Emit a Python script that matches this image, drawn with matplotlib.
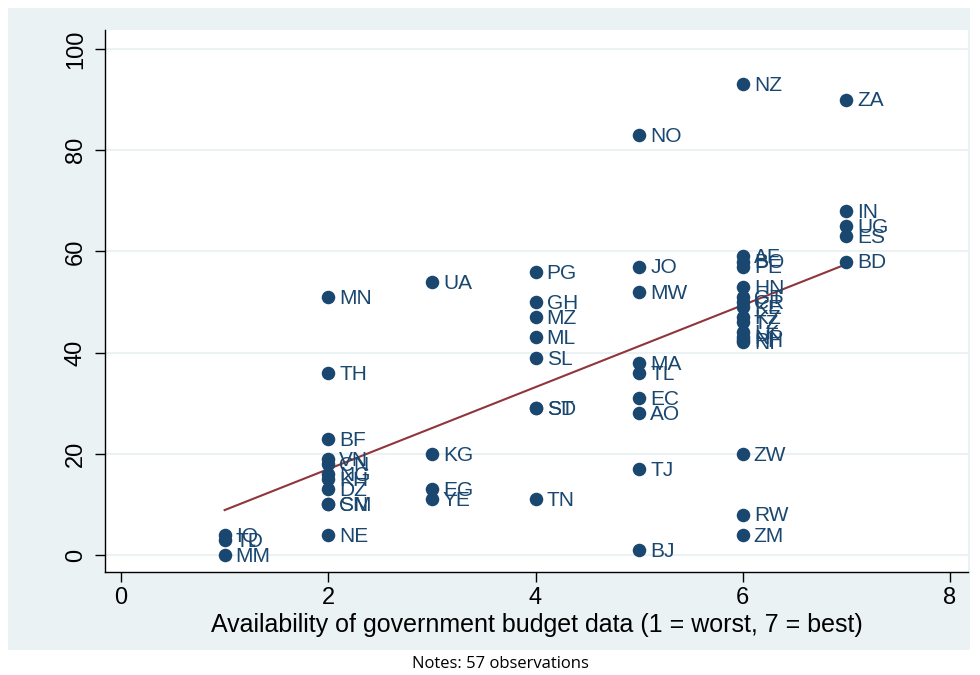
import numpy as np
import matplotlib
matplotlib.use("Agg")
import matplotlib.pyplot as plt
from matplotlib.patches import Rectangle

plt.rcParams["font.family"] = ["Liberation Sans", "DejaVu Sans"]

# Data: budget data availability score (x), outcome index (y), country code
codes = ["IQ", "TD", "MM",
         "MN", "TH", "BF", "VN", "CN", "NG", "KH", "DZ", "CM", "SN", "NE",
         "UA", "KG", "EG", "YE",
         "PG", "GH", "MZ", "ML", "SL", "ST", "SD", "TN",
         "NO", "JO", "MW", "MA", "TL", "EC", "AO", "TJ", "BJ",
         "NZ", "AF", "BO", "PE", "HN", "GT", "CR", "KE", "KZ", "TZ", "LK", "NP", "PH", "NI",
         "ZW", "RW", "ZM",
         "ZA", "IN", "UG", "ES", "BD"]
xvals = [1, 1, 1,
         2, 2, 2, 2, 2, 2, 2, 2, 2, 2, 2,
         3, 3, 3, 3,
         4, 4, 4, 4, 4, 4, 4, 4,
         5, 5, 5, 5, 5, 5, 5, 5, 5,
         6, 6, 6, 6, 6, 6, 6, 6, 6, 6, 6, 6, 6, 6,
         6, 6, 6,
         7, 7, 7, 7, 7]
yvals = [4, 3, 0,
         51, 36, 23, 19, 18, 16, 15, 13, 10, 10, 4,
         54, 20, 13, 11,
         56, 50, 47, 43, 39, 29, 29, 11,
         83, 57, 52, 38, 36, 31, 28, 17, 1,
         93, 59, 58, 57, 53, 51, 50, 49, 47, 46, 44, 43, 42.5, 42,
         20, 8, 4,
         90, 68, 65, 63, 58]

x_ticks = [0, 2, 4, 6, 8]
y_ticks = [0, 20, 40, 60, 80, 100]
x_title = "Availability of government budget data (1 = worst, 7 = best)"
note = "Notes: 57 observations"

navy = "#1a476f"
maroon = "#90353b"
bg = "#eaf2f3"

W, H = 980, 675
fig = plt.figure(figsize=(W / 100, H / 100), dpi=100)
fig.patch.set_facecolor("white")
fig.add_artist(Rectangle((8 / W, 1 - 650 / H), 962 / W, 642 / H,
                         transform=fig.transFigure, facecolor=bg,
                         edgecolor="none", zorder=0))

# axes box in pixels
left, right, top, bottom = 105, 968, 30, 572
ax = fig.add_axes([left / W, 1 - bottom / H, (right - left) / W, (bottom - top) / H])
ax.set_facecolor("white")

# data->pixel mapping: x 0@121, 8@950 ; y 0@555, 100@49
xs = (950 - 121) / 8
ys = (555 - 49) / 100
ax.set_xlim(-(121 - left) / xs, 8 + (right - 950) / xs)
ax.set_ylim(-(bottom - 555) / ys, 100 + (49 - top) / ys)

for yt in y_ticks:
    ax.axhline(yt, color=bg, lw=1.5, zorder=1)

x = np.array(xvals, dtype=float)
y = np.array(yvals, dtype=float)
ax.scatter(x, y, s=95, color=navy, zorder=3, linewidths=0)
for xi, yi, c in zip(x, y, codes):
    ax.annotate(c, (xi, yi), xytext=(8, -1), textcoords="offset points",
                va="center", ha="left", fontsize=15, color=navy, zorder=4)

b, a = np.polyfit(x, y, 1)
xl = np.array([x.min(), x.max()])
ax.plot(xl, a + b * xl, color=maroon, lw=1.5, zorder=2)

ax.set_xticks(x_ticks)
ax.set_yticks(y_ticks)
ax.tick_params(axis="both", labelsize=17, color="black", length=7, width=1)
ax.tick_params(axis="y", labelrotation=90, pad=6)
for lab in ax.get_yticklabels():
    lab.set_va("center")
ax.spines["top"].set_visible(False)
ax.spines["right"].set_visible(False)
ax.spines["left"].set_linewidth(1)
ax.spines["bottom"].set_linewidth(1)
ax.set_xlabel(x_title, fontsize=18, labelpad=3)

fig.text(500 / W, 1 - 664 / H, note, ha="center", va="center",
         fontsize=12, family=["Open Sans", "DejaVu Sans"], color="black")

fig.savefig("out.png", dpi=100, facecolor=fig.get_facecolor())
